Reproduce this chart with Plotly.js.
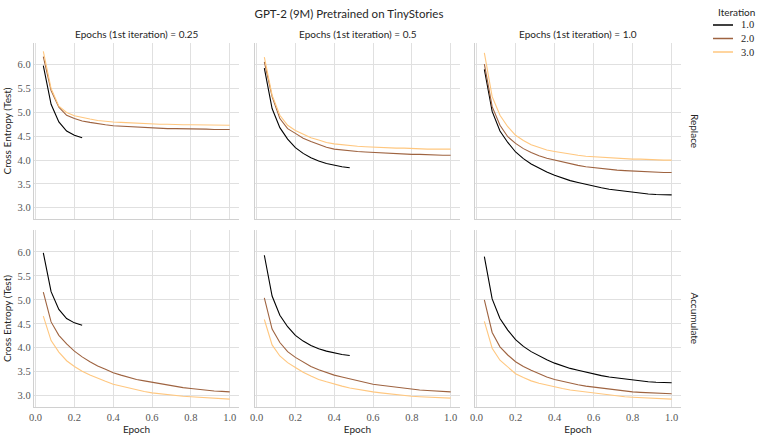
<!DOCTYPE html>
<html>
<head>
<meta charset="utf-8">
<script src="https://cdn.plot.ly/plotly-3.0.1.min.js"></script>
<style>
  html, body { margin: 0; padding: 0; background: #fff; }
  #graph { width: 761px; height: 435px; }
</style>
</head>
<body>
<div id="graph"></div>
<script>
/* ----- data ----- */
var epochs25 = [0.04, 0.08, 0.12, 0.16, 0.20, 0.24, 0.28, 0.32, 0.36, 0.40, 0.44, 0.48, 0.52,
                0.56, 0.60, 0.64, 0.68, 0.72, 0.76, 0.80, 0.84, 0.88, 0.92, 0.96, 1.00];
var firstEpochs = ['0.25', '0.5', '1.0'];
var iterations = ['1.0', '2.0', '3.0'];
var modes = ['Replace', 'Accumulate'];

// iteration 1 (same model in both rows)
var it1_025 = [5.98, 5.17, 4.80, 4.61, 4.52, 4.47];
var it1_05 = [5.93, 5.08, 4.68, 4.44, 4.26, 4.14, 4.05, 3.98, 3.93, 3.89, 3.86, 3.84];
var it1_10 = [5.90, 5.02, 4.61, 4.37, 4.17, 4.03, 3.92, 3.83, 3.75, 3.68, 3.62, 3.57, 3.53,
              3.49, 3.45, 3.42, 3.39, 3.37, 3.34, 3.32, 3.31, 3.29, 3.28, 3.27, 3.27];

// Replace
var rep2_025 = [6.17, 5.46, 5.11, 4.94, 4.87, 4.82, 4.79, 4.76, 4.74, 4.72, 4.71, 4.70, 4.69,
                4.68, 4.67, 4.67, 4.66, 4.66, 4.66, 4.65, 4.65, 4.65, 4.64, 4.64, 4.64];
var rep3_025 = [6.28, 5.50, 5.13, 5.00, 4.93, 4.89, 4.86, 4.83, 4.81, 4.80, 4.79, 4.78, 4.77,
                4.76, 4.75, 4.75, 4.75, 4.74, 4.74, 4.74, 4.74, 4.73, 4.73, 4.73, 4.73];
var rep2_05 = [6.06, 5.33, 4.87, 4.66, 4.56, 4.46, 4.39, 4.33, 4.27, 4.23, 4.21, 4.19, 4.18,
               4.17, 4.16, 4.15, 4.14, 4.13, 4.13, 4.12, 4.12, 4.11, 4.11, 4.10, 4.10];
var rep3_05 = [6.16, 5.36, 4.94, 4.73, 4.62, 4.54, 4.47, 4.42, 4.37, 4.34, 4.32, 4.30, 4.29,
               4.28, 4.27, 4.26, 4.26, 4.25, 4.25, 4.24, 4.24, 4.23, 4.23, 4.23, 4.23];
var rep2_10 = [6.01, 5.12, 4.73, 4.49, 4.35, 4.24, 4.16, 4.09, 4.04, 4.00, 3.96, 3.92, 3.89,
               3.86, 3.84, 3.82, 3.81, 3.79, 3.78, 3.77, 3.76, 3.75, 3.75, 3.74, 3.74];
var rep3_10 = [6.25, 5.33, 4.94, 4.70, 4.52, 4.41, 4.32, 4.26, 4.21, 4.18, 4.15, 4.12, 4.10,
               4.08, 4.07, 4.05, 4.04, 4.03, 4.03, 4.02, 4.02, 4.01, 4.01, 4.00, 4.00];

// Accumulate
var acc2_025 = [5.16, 4.54, 4.26, 4.08, 3.93, 3.81, 3.71, 3.62, 3.55, 3.48, 3.43, 3.38, 3.34,
                3.31, 3.28, 3.25, 3.22, 3.19, 3.17, 3.15, 3.13, 3.11, 3.10, 3.09, 3.08];
var acc3_025 = [4.66, 4.15, 3.91, 3.73, 3.61, 3.51, 3.43, 3.36, 3.30, 3.24, 3.20, 3.16, 3.12,
                3.09, 3.06, 3.04, 3.02, 3.00, 2.99, 2.98, 2.97, 2.96, 2.95, 2.94, 2.93];
var acc2_05 = [5.04, 4.39, 4.11, 3.92, 3.80, 3.70, 3.61, 3.54, 3.48, 3.43, 3.39, 3.35, 3.31,
               3.28, 3.24, 3.22, 3.20, 3.18, 3.16, 3.13, 3.12, 3.11, 3.10, 3.09, 3.08];
var acc3_05 = [4.59, 4.06, 3.83, 3.69, 3.59, 3.49, 3.41, 3.34, 3.29, 3.24, 3.20, 3.16, 3.13,
               3.10, 3.08, 3.06, 3.04, 3.02, 3.01, 2.99, 2.98, 2.97, 2.96, 2.96, 2.95];
var acc2_10 = [5.00, 4.32, 4.02, 3.85, 3.71, 3.61, 3.53, 3.46, 3.39, 3.34, 3.30, 3.26, 3.23,
               3.20, 3.18, 3.15, 3.13, 3.11, 3.10, 3.08, 3.07, 3.06, 3.05, 3.05, 3.04];
var acc3_10 = [4.55, 3.99, 3.74, 3.59, 3.46, 3.38, 3.31, 3.26, 3.22, 3.19, 3.15, 3.12, 3.10,
               3.07, 3.05, 3.03, 3.01, 3.00, 2.98, 2.97, 2.96, 2.95, 2.94, 2.94, 2.93];

var xTicks = [0.0, 0.2, 0.4, 0.6, 0.8, 1.0];
var yTicks = [3.0, 3.5, 4.0, 4.5, 5.0, 5.5, 6.0];

/* ----- styling ----- */
var colors = ['#000000', '#9e6340', '#ffc77f'];   // copper palette
var SANS = 'Lato, "DejaVu Sans", sans-serif';
var SERIF = '"Liberation Serif", "DejaVu Serif", serif';
var TXT = '#262626';

// one entry per panel: [row, col, it1, it2, it3]
var panels = [
    [0, 0, it1_025, rep2_025, rep3_025],
    [0, 1, it1_05, rep2_05, rep3_05],
    [0, 2, it1_10, rep2_10, rep3_10],
    [1, 0, it1_025, acc2_025, acc3_025],
    [1, 1, it1_05, acc2_05, acc3_05],
    [1, 2, it1_10, acc2_10, acc3_10]
];

var data = [];
panels.forEach(function(p, idx) {
    var n = idx + 1;
    var series = [p[2], p[3], p[4]];
    series.forEach(function(ys, k) {
        data.push({
            x: epochs25.slice(0, ys.length),
            y: ys,
            xaxis: 'x' + (n === 1 ? '' : n),
            yaxis: 'y' + (n === 1 ? '' : n),
            type: 'scatter',
            mode: 'lines',
            name: iterations[k],
            showlegend: false,
            line: {color: colors[k], width: 1.1},
            hoverinfo: 'skip'
        });
    });
});

/* ----- layout ----- */
var W = 761, H = 435;
var M = {l: 34, r: 80, t: 43, b: 28};
var PW = W - M.l - M.r, PH = H - M.t - M.b;
var xDomains = [[0, 0.3169], [0.3416, 0.6584], [0.6816, 1]];
var yDomains = [[0.5165, 1], [0, 0.486]];

// pixel -> paper helpers for the hand-made legend
function px(x) { return (x - M.l) / PW; }
function py(y) { return (H - M.b - y) / PH; }

var layout = {
    width: W,
    height: H,
    margin: M,
    paper_bgcolor: '#ffffff',
    plot_bgcolor: '#ffffff',
    font: {family: SANS, size: 10, color: TXT},
    title: {
        text: 'GPT-2 (9M) Pretrained on TinyStories',
        font: {family: SANS, size: 11.5, color: TXT},
        xref: 'container', x: 349 / W, xanchor: 'center',
        yref: 'container', y: 1 - 14 / H, yanchor: 'middle'
    },
    showlegend: false,
    annotations: [],
    shapes: [],
    hovermode: false
};

var tickFont = {family: SERIF, size: 10.5, color: '#555555'};

panels.forEach(function(p, idx) {
    var n = idx + 1;
    var row = p[0], col = p[1];
    var xa = {
        domain: xDomains[col],
        anchor: 'y' + (n === 1 ? '' : n),
        range: [-0.008, 1.048],
        tickvals: xTicks,
        ticktext: xTicks.map(function(v) { return v.toFixed(1); }),
        showticklabels: row === 1,
        tickfont: tickFont,
        ticks: '',
        showgrid: true, gridcolor: '#e0e0e0', gridwidth: 1,
        showline: true, linecolor: '#d0d0d0', linewidth: 1.2,
        zeroline: false
    };
    var ya = {
        domain: yDomains[row],
        anchor: 'x' + (n === 1 ? '' : n),
        range: [2.765, 6.455],
        tickvals: yTicks,
        ticktext: yTicks.map(function(v) { return v.toFixed(1); }),
        showticklabels: col === 0,
        tickfont: tickFont,
        ticks: '',
        showgrid: true, gridcolor: '#e0e0e0', gridwidth: 1,
        showline: true, linecolor: '#d0d0d0', linewidth: 1.2,
        zeroline: false
    };
    if (n > 1) { xa.matches = 'x'; ya.matches = 'y'; }
    if (row === 1) xa.title = {text: 'Epoch', font: {family: SANS, size: 10, color: TXT}, standoff: 2};
    if (col === 0) ya.title = {text: 'Cross Entropy (Test)', font: {family: SANS, size: 10, color: TXT}, standoff: 4};
    layout['xaxis' + (n === 1 ? '' : n)] = xa;
    layout['yaxis' + (n === 1 ? '' : n)] = ya;
});

// column titles
firstEpochs.forEach(function(e, c) {
    layout.annotations.push({
        text: 'Epochs (1st iteration) = ' + e,
        xref: 'paper', yref: 'paper',
        x: (xDomains[c][0] + xDomains[c][1]) / 2, y: 1,
        xanchor: 'center', yanchor: 'bottom', yshift: 1,
        showarrow: false,
        font: {family: SANS, size: 10, color: TXT}
    });
});

// row labels
modes.forEach(function(m, r) {
    layout.annotations.push({
        text: m,
        xref: 'paper', yref: 'paper',
        x: 1, xshift: 6, xanchor: 'left',
        y: (yDomains[r][0] + yDomains[r][1]) / 2, yanchor: 'middle',
        textangle: 90,
        showarrow: false,
        font: {family: SANS, size: 10, color: TXT}
    });
});

// legend (compact, seaborn style)
layout.annotations.push({
    text: 'Iteration', xref: 'paper', yref: 'paper',
    x: px(716), y: py(12), xanchor: 'left', yanchor: 'middle',
    showarrow: false, font: {family: SANS, size: 10, color: TXT}
});
iterations.forEach(function(it, k) {
    var yy = 25 + k * 13.5;
    layout.shapes.push({
        type: 'line', xref: 'paper', yref: 'paper',
        x0: px(713), x1: px(733), y0: py(yy), y1: py(yy),
        line: {color: colors[k], width: 1.5}
    });
    layout.annotations.push({
        text: it, xref: 'paper', yref: 'paper',
        x: px(739), y: py(yy), xanchor: 'left', yanchor: 'middle',
        showarrow: false, font: {family: SERIF, size: 10.5, color: TXT}
    });
});

var graph = document.getElementById('graph');
Plotly.newPlot(graph, data, layout, {staticPlot: true, displayModeBar: false});
</script>
</body>
</html>
